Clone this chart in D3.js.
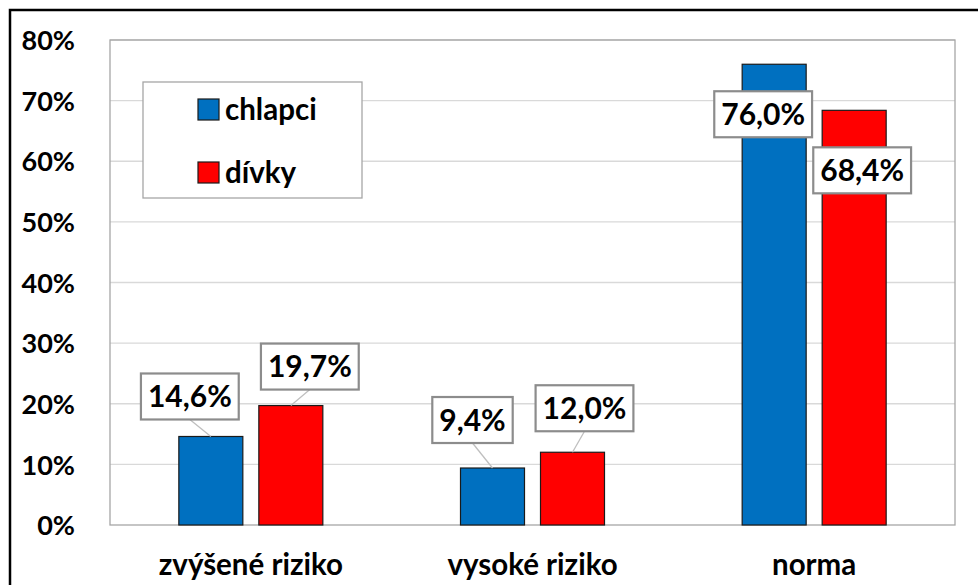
<!DOCTYPE html>
<html>
<head>
<meta charset="utf-8">
<script src="https://cdn.jsdelivr.net/npm/d3@7"></script>
<style>
  body { margin: 0; background: #fff; }
  svg { display: block; font-family: Lato, "Liberation Sans", sans-serif; font-weight: bold; }
</style>
</head>
<body>
<svg id="chart" width="978" height="585"></svg>
<script>
const categories = ["zvýšené riziko", "vysoké riziko", "norma"];
const seriesNames = ["chlapci", "dívky"];
const boysValues = [14.6, 9.4, 76.0];
const girlsValues = [19.7, 12.0, 68.4];
const yTicks = [0, 10, 20, 30, 40, 50, 60, 70, 80];
const seriesColors = ["#0070c0", "#ff0000"];

// manual label placement (offset of label box centre from bar top centre)
const labelOffsets = [
  [[-21, -40], [19, -39]],
  [[-20, -48], [12, -44]],
  [[-11, 50], [8, 60]]
];

const svg = d3.select("#chart");
const margin = { top: 40, right: 23, bottom: 60, left: 110 };
const width = +svg.attr("width");
const height = +svg.attr("height");

// outer frame
svg.append("rect")
  .attr("x", 10).attr("y", 10)
  .attr("width", width + 20).attr("height", height + 20)
  .attr("fill", "none").attr("stroke", "#000").attr("stroke-width", 2.5);

const x0 = d3.scaleBand()
  .domain(categories)
  .range([margin.left, width - margin.right]);

const x1 = d3.scaleBand()
  .domain(seriesNames)
  .range([0, 144])
  .paddingInner(0.2);

const y = d3.scaleLinear()
  .domain([0, 80])
  .range([height - margin.bottom, margin.top]);

// gridlines
svg.append("g")
  .selectAll("line")
  .data(yTicks.slice(1))
  .enter()
  .append("line")
  .attr("x1", margin.left).attr("x2", width - margin.right)
  .attr("y1", (d) => y(d)).attr("y2", (d) => y(d))
  .attr("stroke", "#d9d9d9").attr("stroke-width", 1.3);

// plot frame
svg.append("rect")
  .attr("x", margin.left).attr("y", margin.top)
  .attr("width", width - margin.left - margin.right)
  .attr("height", height - margin.top - margin.bottom)
  .attr("fill", "none").attr("stroke", "#a6a6a6").attr("stroke-width", 1.3);

// y axis labels
const yAxis = svg.append("g")
  .attr("transform", `translate(${margin.left - 32},0)`)
  .call(d3.axisLeft(y).tickValues(yTicks).tickFormat((d) => d + "%").tickSize(0));
yAxis.select(".domain").remove();
yAxis.selectAll("text")
  .attr("font-family", "Lato, sans-serif")
  .attr("font-weight", "bold")
  .attr("font-size", 27)
  .attr("fill", "#000")
  .attr("text-anchor", "end")
  .attr("dy", "0.36em")
  .attr("dx", 0);

// x axis labels
const xAxis = svg.append("g")
  .attr("transform", `translate(0,${height - margin.bottom})`)
  .call(d3.axisBottom(x0).tickSize(0));
xAxis.select(".domain").remove();
xAxis.selectAll("text")
  .attr("font-family", "Lato, sans-serif")
  .attr("font-weight", "bold")
  .attr("font-size", 29.5)
  .attr("fill", "#000")
  .attr("dy", 0)
  .attr("y", 50);

const rows = categories.map((c, i) => ({
  category: c,
  values: [boysValues[i], girlsValues[i]],
  offsets: labelOffsets[i]
}));

const groups = svg.append("g")
  .selectAll("g")
  .data(rows)
  .enter()
  .append("g")
  .attr("transform", (d) => `translate(${x0(d.category) + x0.bandwidth() / 2 - 72},0)`);

groups.selectAll("rect")
  .data((d) => d.values.map((v, j) => ({ v, j })))
  .enter()
  .append("rect")
  .attr("x", (d) => x1(seriesNames[d.j]))
  .attr("y", (d) => y(d.v))
  .attr("width", x1.bandwidth())
  .attr("height", (d) => y(0) - y(d.v))
  .attr("fill", (d) => seriesColors[d.j])
  .attr("stroke", "#1a1a1a")
  .attr("stroke-width", 1.2);

// data labels
const labels = groups.selectAll("g.lbl")
  .data((d) => d.values.map((v, j) => ({ v, j, off: d.offsets[j] })))
  .enter()
  .append("g")
  .attr("class", "lbl");

labels.each(function (d) {
  const g = d3.select(this);
  const bx = x1(seriesNames[d.j]) + x1.bandwidth() / 2;
  const by = y(d.v);
  const cx = bx + d.off[0];
  const cy = by + d.off[1];
  const txt = d3.format(".1f")(d.v).replace(".", ",") + "%";
  const t = g.append("text")
    .attr("x", cx).attr("y", cy)
    .attr("dy", "0.36em")
    .attr("text-anchor", "middle")
    .attr("font-size", 30)
    .attr("fill", "#000")
    .text(txt);
  const w = t.node().getComputedTextLength() + 14;
  const h = 46;
  if (d.off[1] < 0) {
    g.insert("line", "text")
      .attr("x1", bx).attr("y1", by)
      .attr("x2", cx).attr("y2", cy + h / 2)
      .attr("stroke", "#bfbfbf").attr("stroke-width", 1.3);
  }
  g.insert("rect", "text")
    .attr("x", cx - w / 2).attr("y", cy - h / 2)
    .attr("width", w).attr("height", h)
    .attr("fill", "#fff")
    .attr("stroke", "#8c8c8c").attr("stroke-width", 2.2);
});

// legend
const legend = svg.append("g").attr("transform", "translate(143,82)");
legend.append("rect")
  .attr("width", 219).attr("height", 116)
  .attr("fill", "#fff").attr("stroke", "#a6a6a6").attr("stroke-width", 1.3);
const items = legend.selectAll("g")
  .data(seriesNames)
  .enter()
  .append("g")
  .attr("transform", (d, i) => `translate(55,${17 + i * 63})`);
items.append("rect")
  .attr("width", 21).attr("height", 21)
  .attr("fill", (d, i) => seriesColors[i])
  .attr("stroke", "#1a1a1a").attr("stroke-width", 1.2);
items.append("text")
  .attr("x", 27).attr("y", 10.5)
  .attr("dy", "0.36em")
  .attr("font-size", 29.5)
  .attr("fill", "#000")
  .text((d) => d);
</script>
</body>
</html>
